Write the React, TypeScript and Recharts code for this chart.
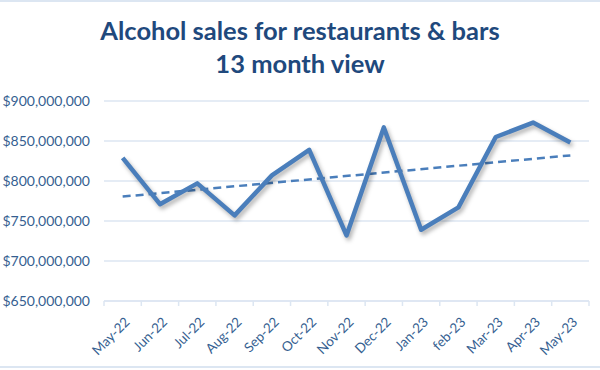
import { LineChart, Line, XAxis, YAxis, CartesianGrid } from 'recharts'

const months = ['May-22', 'Jun-22', 'Jul-22', 'Aug-22', 'Sep-22', 'Oct-22', 'Nov-22', 'Dec-22', 'Jan-23', 'feb-23', 'Mar-23', 'Apr-23', 'May-23']
const sales = [829e6, 771e6, 797e6, 757e6, 807e6, 839e6, 732e6, 867e6, 739e6, 767e6, 855e6, 873e6, 848e6]
// linear trendline read at its two ends
const trendEnds = [780.5e6, 832e6]
const yTicks = [650e6, 700e6, 750e6, 800e6, 850e6, 900e6]

const data = months.map((m, i) => ({
  month: m,
  sales: sales[i],
  trend: i === 0 ? trendEnds[0] : i === months.length - 1 ? trendEnds[1] : null,
}))

const W = 600
const H = 370
const LEFT = 104
const RIGHT = 11
const STEP = (W - LEFT - RIGHT) / months.length
const LINE = '#4a7ebb'
const TEXT = '#365f91'
const GRID = '#dce6f2'
const FONT = 'Lato, "Open Sans", sans-serif'

function MonthTick(props: { x?: number; y?: number; index?: number; payload?: { value: string } }) {
  const { x = 0, y = 0, index = 0, payload } = props
  const left = x - STEP / 2
  const tx = x + 8
  const ty = y + 14
  return (
    <g>
      <line x1={left} y1={y - 8} x2={left} y2={y - 3} stroke={GRID} strokeWidth={1.5} />
      {index === months.length - 1 && (
        <line x1={left + STEP} y1={y - 8} x2={left + STEP} y2={y - 3} stroke={GRID} strokeWidth={1.5} />
      )}
      <text
        x={tx}
        y={ty}
        textAnchor="end"
        transform={`rotate(-45, ${tx}, ${ty})`}
        fill={TEXT}
        fontSize={13.5}
        fontFamily={FONT}
      >
        {payload?.value}
      </text>
    </g>
  )
}

export default function App() {
  return (
    <div style={{ position: 'absolute', left: 0, top: 0, width: W, height: H, background: '#fff' }}>
      <style>{`.salesLine path { filter: drop-shadow(2px 3px 2px rgba(0,0,0,0.3)); }`}</style>
      <div
        style={{
          position: 'absolute',
          left: 0,
          top: 0,
          width: W,
          height: H - 2,
          borderTop: `2px solid ${GRID}`,
          borderBottom: `2px solid ${GRID}`,
          boxSizing: 'border-box',
        }}
      />
      <div
        style={{
          position: 'absolute',
          left: 0,
          top: 14,
          width: W,
          textAlign: 'center',
          color: '#1f497d',
          fontFamily: FONT,
          fontWeight: 700,
          fontSize: 25.5,
          lineHeight: '33px',
        }}
      >
        Alcohol sales for restaurants &amp; bars
        <br />
        13 month view
      </div>
      <div style={{ position: 'absolute', left: 0, top: 0 }}>
        <LineChart width={W} height={H} data={data} margin={{ top: 101, right: RIGHT, bottom: 0, left: 0 }}>
          <CartesianGrid stroke={GRID} strokeWidth={1.5} vertical={false} />
          <XAxis
            dataKey="month"
            interval={0}
            height={69}
            padding={{ left: STEP / 2, right: STEP / 2 }}
            axisLine={{ stroke: GRID, strokeWidth: 1.5 }}
            tickLine={false}
            tick={<MonthTick />}
          />
          <YAxis
            width={LEFT}
            domain={[650e6, 900e6]}
            ticks={yTicks}
            axisLine={false}
            tickLine={false}
            tickMargin={8}
            tick={{ fill: TEXT, fontSize: 14, fontFamily: FONT }}
            tickFormatter={(v: number) => '$' + v.toLocaleString('en-US')}
          />
          <Line
            dataKey="trend"
            stroke={LINE}
            strokeWidth={2.5}
            strokeDasharray="8 5"
            dot={false}
            connectNulls
            isAnimationActive={false}
          />
          <Line
            className="salesLine"
            dataKey="sales"
            stroke={LINE}
            strokeWidth={4.5}
            dot={false}
            strokeLinejoin="round"
            isAnimationActive={false}
          />
        </LineChart>
      </div>
    </div>
  )
}
